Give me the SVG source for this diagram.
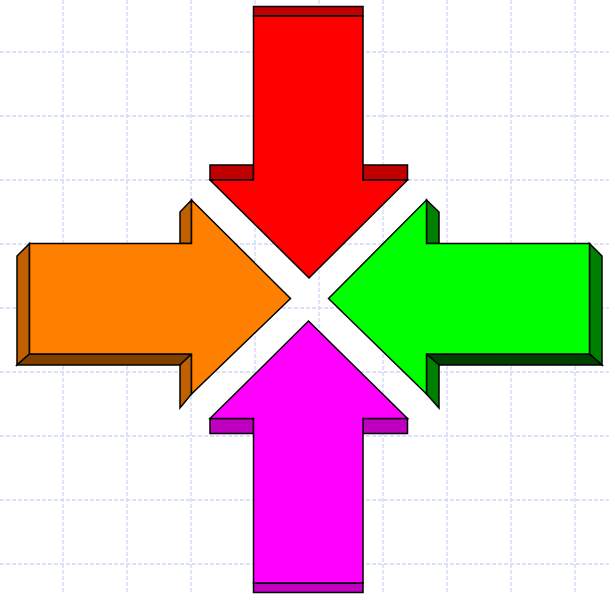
<svg xmlns="http://www.w3.org/2000/svg" width="609" height="594" viewBox="0 0 609 594">
<style>
.grid line{stroke:#d0d8f8;stroke-width:1.3;stroke-dasharray:4,2}
.s{stroke:#000;stroke-width:1.5;stroke-linejoin:miter}
</style>
<rect width="609" height="594" fill="#fff"/>
<g class="grid" id="grid">
<line x1="63" y1="0" x2="63" y2="594"/><line x1="127" y1="0" x2="127" y2="594"/><line x1="191" y1="0" x2="191" y2="594"/><line x1="255" y1="0" x2="255" y2="594"/><line x1="319" y1="0" x2="319" y2="594"/><line x1="383" y1="0" x2="383" y2="594"/><line x1="447" y1="0" x2="447" y2="594"/><line x1="511" y1="0" x2="511" y2="594"/><line x1="575" y1="0" x2="575" y2="594"/>
<line x1="0" y1="52" x2="609" y2="52"/><line x1="0" y1="116" x2="609" y2="116"/><line x1="0" y1="180" x2="609" y2="180"/><line x1="0" y1="244" x2="609" y2="244"/><line x1="0" y1="308" x2="609" y2="308"/><line x1="0" y1="372" x2="609" y2="372"/><line x1="0" y1="436" x2="609" y2="436"/><line x1="0" y1="500" x2="609" y2="500"/><line x1="0" y1="564" x2="609" y2="564"/>
</g>
<g id="arrow-down-red">
<rect class="s" x="253.5" y="6.5" width="109.5" height="9.5" fill="#c00000"/>
<rect class="s" x="210" y="165" width="43.5" height="15" fill="#c00000"/>
<rect class="s" x="363" y="165" width="44.5" height="15" fill="#c00000"/>
<polygon class="s" points="253.5,16 363,16 363,180 407.5,180 309,278 210,180 253.5,180" fill="#ff0000"/>
</g>
<g id="arrow-right-orange">
<polygon class="s" points="29.5,243.5 17,256 17,365 29.5,354" fill="#c06000"/>
<polygon class="s" points="29.5,354 191.5,354 180,365 17,365" fill="#804000"/>
<polygon class="s" points="191.5,200 180,212 180,243.5 191.5,243.5" fill="#c06000"/>
<polygon class="s" points="191.5,354 180,365 180,408 191.5,394" fill="#c06000"/>
<polygon class="s" points="29.5,243.5 191.5,243.5 191.5,200 290.5,298.5 191.5,394 191.5,354 29.5,354" fill="#ff8000"/>
</g>
<g id="arrow-left-green">
<polygon class="s" points="589.5,243.5 602,256 602,365 589.5,354" fill="#008000"/>
<polygon class="s" points="426.5,354 589.5,354 602,365 439,365" fill="#004000"/>
<polygon class="s" points="426.5,200 439,212 439,243.5 426.5,243.5" fill="#008000"/>
<polygon class="s" points="426.5,354 439,365 439,408 426.5,394" fill="#008000"/>
<polygon class="s" points="589.5,243.5 426.5,243.5 426.5,200 328.5,298.5 426.5,394 426.5,354 589.5,354" fill="#00ff00"/>
</g>
<g id="arrow-up-magenta">
<rect class="s" x="253.5" y="583" width="109.5" height="9.5" fill="#c000c0"/>
<rect class="s" x="210" y="418.5" width="43.5" height="15" fill="#c000c0"/>
<rect class="s" x="363" y="418.5" width="44.5" height="15" fill="#c000c0"/>
<polygon class="s" points="253.5,583 363,583 363,418.5 407.5,418.5 308.5,321 210,418.5 253.5,418.5" fill="#ff00ff"/>
</g>
<g id="connectors"></g>
</svg>
